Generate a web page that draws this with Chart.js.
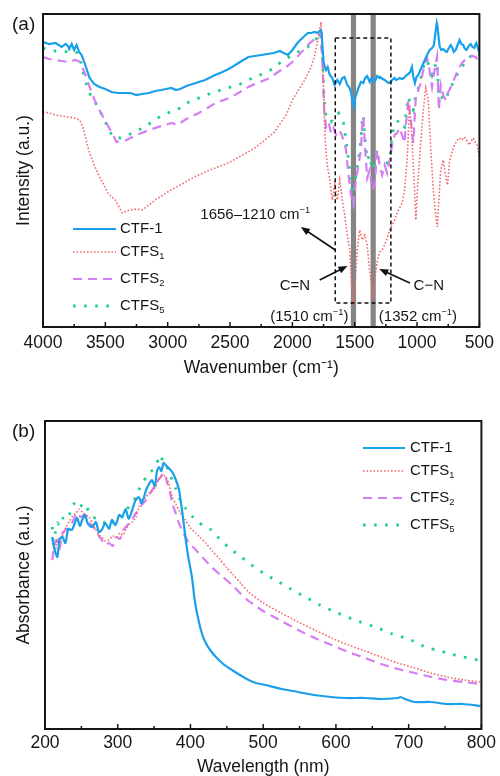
<!DOCTYPE html>
<html>
<head>
<meta charset="utf-8">
<script src="https://cdn.jsdelivr.net/npm/chart.js@4.4.1/dist/chart.umd.min.js"></script>
<style>
  html, body { margin: 0; padding: 0; background: #fff; }
  #wrap { position: relative; width: 500px; height: 776px; }
  canvas { position: absolute; left: 0; }
</style>
</head>
<body>
<div id="wrap">
  <canvas id="ftir" width="500" height="388" style="top:0"></canvas>
  <canvas id="uvvis" width="500" height="388" style="top:388px"></canvas>
</div>
<script>
// series names: base text + subscript
const seriesLabels = [['CTF-1', ''], ['CTFS', '1'], ['CTFS', '2'], ['CTFS', '5']];
const seriesColors = ['#1aa0ea', '#f26b6b', '#d57ef3', '#1fcf8e'];

// (a) FTIR: [wavenumber cm-1, intensity a.u.]
const ftirCTF1 = [[4000,285],[3950,283],[3900,284],[3850,280],[3820,283],[3800,281],[3790,278],[3770,283],[3750,277],[3730,282],[3710,275],[3690,272],[3666,264],[3645,256],[3626,249],[3590,243],[3547,240],[3500,238],[3450,235],[3400,234],[3364,234],[3300,234],[3250,232],[3205,233],[3150,234],[3100,236],[3050,237],[3014,238],[2970,239],[2934,237],[2900,238],[2850,241],[2800,243],[2751,245],[2700,247],[2620,252],[2560,255],[2512,258],[2470,261],[2420,265],[2380,268],[2353,270],[2300,271],[2250,272],[2200,273],[2150,274],[2100,276],[2070,274],[2035,272],[2000,277],[1960,284],[1920,289],[1876,294],[1850,294],[1820,295],[1797,294],[1773,297],[1765,294],[1758,280],[1750,265],[1740,260],[1730,257],[1717,260],[1700,252],[1680,249],[1661,242],[1640,247],[1620,243],[1600,249],[1582,250],[1560,242],[1545,240],[1530,235],[1515,224],[1505,220],[1495,230],[1480,235],[1470,239],[1450,245],[1430,244],[1423,247],[1410,250],[1400,251],[1380,245],[1370,248],[1360,249],[1343,245],[1330,248],[1320,251],[1300,249],[1295,250],[1275,248],[1260,247],[1230,244],[1210,245],[1200,247],[1180,249],[1170,247],[1150,248],[1140,249],[1120,248],[1104,249],[1085,252],[1070,253],[1055,255],[1041,260],[1030,250],[1017,244],[1005,250],[990,252],[970,258],[945,265],[920,272],[898,277],[880,279],[865,282],[850,297],[842,304],[835,300],[828,290],[818,280],[805,277],[790,278],[775,276],[762,275],[745,279],[730,282],[720,280],[705,275],[690,277],[675,282],[659,287],[645,283],[630,282],[615,278],[603,277],[585,281],[570,283],[555,280],[540,279],[530,283],[524,284],[510,278],[500,274]];
const ftirCTFS1 = [[4000,215],[3950,214],[3900,212],[3850,211],[3801,210],[3750,209],[3706,207],[3680,200],[3660,190],[3640,180],[3626,174],[3590,162],[3547,150],[3510,142],[3480,134],[3450,130],[3420,127],[3390,120],[3364,114],[3330,116],[3300,117],[3250,118],[3205,117],[3150,122],[3100,127],[3050,131],[3014,134],[2960,138],[2900,142],[2830,147],[2751,152],[2680,156],[2600,160],[2512,164],[2430,170],[2353,175],[2300,179],[2250,184],[2200,189],[2150,194],[2100,203],[2050,212],[2000,227],[1950,237],[1900,247],[1850,260],[1820,272],[1800,284],[1785,295],[1770,305],[1762,290],[1755,267],[1748,230],[1740,197],[1730,175],[1720,162],[1700,147],[1680,127],[1660,142],[1640,127],[1620,147],[1600,127],[1580,112],[1560,92],[1540,77],[1525,42],[1510,22],[1495,47],[1480,77],[1460,97],[1440,87],[1420,92],[1400,82],[1385,62],[1365,42],[1352,27],[1335,52],[1320,65],[1300,75],[1280,77],[1260,82],[1240,89],[1220,97],[1200,102],[1180,107],[1160,114],[1140,119],[1120,124],[1100,137],[1080,167],[1060,222],[1040,187],[1020,137],[1010,107],[995,142],[975,177],[950,217],[930,239],[910,227],[890,177],[870,137],[850,112],[838,100],[825,127],[810,157],[790,167],[770,150],[755,142],[740,165],[720,175],[700,182],[680,186],[660,189],[640,187],[620,190],[600,186],[580,182],[565,186],[550,189],[535,185],[520,182],[510,176],[500,169]];
const ftirCTFS2 = [[4000,270],[3950,268],[3900,267],[3850,266],[3801,265],[3740,267],[3700,265],[3660,252],[3626,240],[3590,228],[3547,217],[3500,206],[3460,197],[3430,190],[3410,185],[3370,186],[3330,187],[3250,192],[3150,197],[3050,201],[2966,204],[2926,202],[2850,208],[2751,214],[2680,219],[2616,224],[2550,227],[2489,230],[2420,235],[2353,240],[2280,244],[2200,248],[2150,252],[2091,257],[2040,261],[2000,265],[1940,273],[1876,282],[1830,287],[1800,289],[1773,294],[1760,267],[1745,217],[1730,200],[1710,205],[1690,194],[1670,199],[1650,192],[1630,197],[1610,194],[1590,187],[1570,177],[1550,152],[1530,132],[1510,122],[1490,147],[1470,162],[1450,177],[1440,202],[1430,210],[1420,184],[1400,149],[1380,157],[1360,137],[1340,142],[1320,177],[1300,162],[1280,152],[1260,162],[1240,154],[1220,167],[1200,182],[1180,192],[1160,194],[1140,199],[1120,192],[1100,184],[1090,202],[1070,227],[1050,207],[1030,184],[1010,230],[990,237],[970,244],[945,260],[920,269],[900,257],[880,240],[860,257],[840,270],[825,217],[810,242],[790,232],[770,227],[750,235],[720,242],[680,255],[640,264],[600,269],[560,271],[530,270],[500,265]];
const ftirCTFS5 = [[4000,279],[3950,277],[3900,276],[3850,276],[3800,275],[3760,276],[3720,274],[3690,262],[3666,247],[3620,232],[3580,224],[3547,217],[3500,205],[3470,197],[3440,190],[3380,189],[3300,193],[3200,199],[3100,207],[3045,212],[3000,214],[2900,219],[2831,225],[2750,229],[2648,234],[2550,238],[2433,242],[2353,247],[2280,251],[2200,255],[2150,259],[2091,265],[2000,272],[1940,276],[1876,280],[1830,286],[1800,289],[1773,294],[1760,272],[1745,227],[1730,210],[1710,207],[1690,205],[1670,209],[1650,212],[1630,214],[1610,209],[1590,204],[1570,187],[1550,167],[1530,142],[1510,127],[1490,152],[1470,167],[1450,187],[1440,207],[1430,212],[1420,192],[1400,167],[1380,172],[1360,157],[1340,167],[1320,170],[1300,169],[1280,169],[1260,167],[1240,164],[1220,167],[1200,192],[1180,202],[1160,205],[1140,207],[1120,202],[1100,200],[1090,212],[1070,230],[1050,222],[1030,217],[1010,232],[990,239],[970,249],[945,262],[920,267],[900,260],[880,252],[860,260],[840,265],[825,230],[810,232],[790,227],[770,227],[750,234],[720,242],[680,252],[640,260],[600,267],[560,272],[530,274],[500,272]];
const ftirTicks = [4000, 3500, 3000, 2500, 2000, 1500, 1000, 500];

// (b) UV-vis: [wavelength nm, absorbance a.u.]
const uvCTF1 = [[210,192],[213,180],[217,172],[220,190],[224,192],[228,186],[232,200],[237,199],[241,206],[244,211],[248,203],[251,209],[255,214],[259,205],[265,202],[270,207],[274,197],[278,199],[283,206],[288,200],[292,209],[297,204],[302,214],[306,212],[311,220],[315,210],[320,219],[324,228],[329,232],[333,226],[339,239],[343,245],[347,249],[351,243],[354,258],[357,262],[360,258],[363,266],[366,264],[370,261],[375,257],[380,249],[384,240],[387,226],[390,210],[393,192],[397,172],[402,152],[406,128],[411,109],[416,95],[421,86],[428,78],[435,72],[445,65],[457,59],[468,54],[480,49],[490,46],[503,44],[525,40],[548,37],[570,34],[593,32],[615,31],[640,31],[662,30],[685,31],[689,32],[695,30],[708,27],[730,27],[753,25],[775,25],[799,23]];
const uvCTFS1 = [[210,186],[214,178],[217,190],[220,189],[225,195],[229,202],[234,208],[238,213],[243,216],[247,220],[251,217],[256,214],[261,212],[265,205],[270,199],[274,194],[278,192],[283,188],[288,189],[293,193],[298,192],[303,196],[307,194],[311,199],[316,205],[320,207],[325,212],[329,222],[333,229],[338,231],[343,236],[347,238],[352,242],[355,248],[359,252],[363,254],[366,251],[370,246],[375,232],[380,225],[384,219],[393,209],[400,201],[407,196],[414,191],[421,186],[430,178],[439,171],[449,162],[459,154],[470,145],[480,137],[500,126],[525,116],[548,107],[571,99],[594,91],[617,84],[640,78],[662,72],[685,66],[708,61],[730,56],[753,52],[776,49],[799,47]];
const uvCTFS2 = [[210,169],[213,185],[216,189],[220,180],[224,196],[230,200],[237,206],[241,212],[244,216],[249,212],[253,214],[257,209],[262,205],[266,202],[270,199],[274,193],[278,189],[283,184],[288,186],[293,183],[298,192],[303,190],[307,198],[311,202],[316,206],[320,210],[325,216],[330,220],[334,225],[339,229],[344,235],[350,242],[354,247],[359,252],[363,256],[366,252],[368,246],[372,236],[375,226],[380,215],[384,206],[391,195],[398,186],[405,181],[411,176],[420,169],[429,162],[443,153],[457,144],[468,136],[480,128],[500,118],[525,108],[548,99],[571,91],[594,84],[617,77],[640,71],[662,65],[685,60],[708,56],[731,52],[753,49],[776,47],[799,45]];
const uvCTFS5 = [[210,202],[212,182],[214,196],[217,206],[220,203],[224,210],[229,216],[233,214],[237,222],[241,226],[244,227],[248,222],[253,226],[257,222],[262,216],[266,213],[270,210],[275,208],[280,206],[285,209],[292,206],[297,210],[301,212],[306,212],[311,218],[315,222],[320,226],[325,232],[329,239],[334,245],[339,252],[343,256],[348,259],[353,266],[357,270],[359,274],[362,268],[366,266],[370,257],[375,249],[380,240],[385,230],[393,221],[402,213],[411,207],[420,202],[429,199],[440,190],[455,180],[470,172],[480,166],[500,156],[517,149],[538,140],[558,132],[578,124],[599,117],[626,109],[654,102],[678,95],[703,89],[726,81],[740,79],[753,76],[775,72],[795,69],[800,68]];
const uvTicks = [200, 300, 400, 500, 600, 700, 800];

const FONT = '"Liberation Sans", Arial, Helvetica, sans-serif';
const INK = '#161616';
const lineStyles = [
  { borderWidth: 2.2, borderDash: [] },
  { borderWidth: 1.6, borderDash: [1.6, 1.9] },
  { borderWidth: 2.2, borderDash: [9, 6] },
  { borderWidth: 2.8, borderDash: [2.6, 8.5] }
];

function makeDatasets(series, tension) {
  return series.map((s, i) => ({
    label: seriesLabels[i][0] + (seriesLabels[i][1] ? ['₁','₂','₅'][i - 1] : ''),
    data: s.map(p => ({ x: p[0], y: p[1] })),
    borderColor: seriesColors[i],
    backgroundColor: seriesColors[i],
    borderWidth: lineStyles[i].borderWidth,
    borderDash: lineStyles[i].borderDash,
    pointRadius: 0,
    fill: false,
    tension: tension
  }));
}

// text with optional sup (1) / sub (-1) parts
function drawRich(ctx, parts, x, y, size, align) {
  const small = size * 0.62;
  let w = 0;
  parts.forEach(p => { ctx.font = (p[1] ? small : size) + 'px ' + FONT; w += ctx.measureText(p[0]).width; });
  let cx = align === 'center' ? x - w / 2 : x;
  ctx.textAlign = 'left';
  ctx.textBaseline = 'middle';
  parts.forEach(p => {
    ctx.font = (p[1] ? small : size) + 'px ' + FONT;
    const dy = p[1] === 1 ? -size * 0.32 : p[1] === -1 ? size * 0.3 : 0;
    ctx.fillText(p[0], cx, y + dy);
    cx += ctx.measureText(p[0]).width;
  });
}

function arrow(ctx, x1, y1, x2, y2) {
  const a = Math.atan2(y2 - y1, x2 - x1), L = 9, W = 3.6;
  ctx.beginPath();
  ctx.moveTo(x1, y1);
  ctx.lineTo(x2 - Math.cos(a) * L * 0.8, y2 - Math.sin(a) * L * 0.8);
  ctx.stroke();
  ctx.beginPath();
  ctx.moveTo(x2, y2);
  ctx.lineTo(x2 - L * Math.cos(a) + W * Math.sin(a), y2 - L * Math.sin(a) - W * Math.cos(a));
  ctx.lineTo(x2 - L * Math.cos(a) - W * Math.sin(a), y2 - L * Math.sin(a) + W * Math.cos(a));
  ctx.closePath();
  ctx.fill();
}

function drawLegend(chart, rows, x0, x1, tx) {
  const ctx = chart.ctx;
  chart.data.datasets.forEach((ds, i) => {
    const y = rows[i];
    ctx.save();
    ctx.strokeStyle = ds.borderColor;
    ctx.lineWidth = ds.borderWidth;
    ctx.setLineDash(ds.borderDash);
    ctx.beginPath(); ctx.moveTo(x0, y); ctx.lineTo(x1, y); ctx.stroke();
    ctx.restore();
    ctx.fillStyle = INK;
    drawRich(ctx, [[seriesLabels[i][0], 0], [seriesLabels[i][1], -1]], tx, y, 15, 'left');
  });
}

// frame box + inward major/minor ticks + panel letter + legend
const frameTicks = {
  id: 'frameTicks',
  afterDraw(chart, args, opts) {
    const { ctx, chartArea: a, scales: { x } } = chart;
    ctx.save();
    ctx.strokeStyle = INK;
    ctx.lineWidth = 1.5;
    const lo = Math.min(x.min, x.max), hi = Math.max(x.min, x.max);
    for (let v = lo; v <= hi; v += opts.minor) {
      const px = x.getPixelForValue(v);
      const len = (v % opts.major === 0) ? 5 : 3;
      ctx.beginPath(); ctx.moveTo(px, a.bottom); ctx.lineTo(px, a.bottom - len); ctx.stroke();
    }
    ctx.lineWidth = 2;
    ctx.strokeRect(a.left, a.top, a.right - a.left, a.bottom - a.top);
    ctx.fillStyle = INK;
    ctx.font = '19px ' + FONT;
    ctx.textAlign = 'left';
    ctx.textBaseline = 'middle';
    ctx.fillText(opts.letter, 12, opts.letterY);
    drawLegend(chart, opts.legendRows, opts.legendX0, opts.legendX1, opts.legendTextX);
    ctx.restore();
  }
};

// (a) grey bands, dashed box and arrows
const ftirMarks = {
  id: 'ftirMarks',
  beforeDatasetsDraw(chart) {
    const { ctx, chartArea: a, scales: { x } } = chart;
    ctx.save();
    ctx.fillStyle = '#858585';
    [1510, 1352].forEach(w => {
      const px = x.getPixelForValue(w);
      ctx.fillRect(px - 2.6, a.top, 5.2, a.bottom - a.top);
    });
    ctx.restore();
  },
  afterDatasetsDraw(chart) {
    const { ctx, scales: { x, y } } = chart;
    const X = v => x.getPixelForValue(v), Y = v => y.getPixelForValue(v);
    ctx.save();
    ctx.strokeStyle = '#111';
    ctx.fillStyle = '#111';
    ctx.lineWidth = 1.5;
    ctx.setLineDash([4, 3]);
    ctx.strokeRect(X(1656), Y(289), X(1210) - X(1656), Y(24) - Y(289));
    ctx.setLineDash([]);
    ctx.lineWidth = 1.6;
    arrow(ctx, X(1656), Y(77), X(1932), Y(100));
    arrow(ctx, X(1781), Y(47), X(1558), Y(61));
    arrow(ctx, X(1057), Y(44), X(1303), Y(58));
    ctx.fillStyle = INK;
    drawRich(ctx, [['1656–1210 cm', 0], ['−1', 1]], X(2298), Y(112), 15, 'center');
    drawRich(ctx, [['C=N', 0]], X(1980), Y(41), 15, 'center');
    drawRich(ctx, [['C−N', 0]], X(906), Y(41), 15, 'center');
    drawRich(ctx, [['(1510 cm', 0], ['−1', 1], [')', 0]], X(1864), Y(10), 15, 'center');
    drawRich(ctx, [['(1352 cm', 0], ['−1', 1], [')', 0]], X(993), Y(10), 15, 'center');
    ctx.restore();
  }
};

const tickFont = { family: FONT, size: 17.5 };
const titleFont = { family: FONT, size: 17.5 };

new Chart(document.getElementById('ftir'), {
  type: 'line',
  data: { datasets: makeDatasets([ftirCTF1, ftirCTFS1, ftirCTFS2, ftirCTFS5], 0) },
  options: {
    responsive: false,
    animation: false,
    layout: { padding: { top: 14, right: 17, left: 0, bottom: 0 } },
    scales: {
      x: {
        type: 'linear', reverse: true, min: 500, max: 4000,
        afterBuildTicks: s => { s.ticks = ftirTicks.map(v => ({ value: v })); },
        ticks: { autoSkip: false, maxRotation: 0, padding: 6, font: tickFont, color: INK, callback: v => String(v) },
        grid: { display: false, drawTicks: false },
        border: { display: false },
        title: { display: true, text: 'Wavenumber (cm⁻¹)', font: titleFont, color: INK, padding: { top: 0, bottom: 9 } },
        afterFit: s => { s.height = 61; }
      },
      y: {
        min: 0, max: 313,
        ticks: { display: false },
        grid: { display: false, drawTicks: false },
        border: { display: false },
        title: { display: true, text: 'Intensity (a.u.)', font: titleFont, color: INK, padding: { top: 14, bottom: 0 } },
        afterFit: s => { s.width = 43; }
      }
    },
    plugins: {
      legend: { display: false },
      tooltip: { enabled: false },
      frameTicks: { major: 500, minor: 250, letter: '(a)', letterY: 25, legendRows: [229, 252, 279, 306], legendX0: 73, legendX1: 116, legendTextX: 120 }
    }
  },
  plugins: [ftirMarks, frameTicks]
});

new Chart(document.getElementById('uvvis'), {
  type: 'line',
  data: { datasets: makeDatasets([uvCTF1, uvCTFS1, uvCTFS2, uvCTFS5], 0.25) },
  options: {
    responsive: false,
    animation: false,
    layout: { padding: { top: 33, right: 17, left: 0, bottom: 0 } },
    scales: {
      x: {
        type: 'linear', min: 200, max: 800,
        afterBuildTicks: s => { s.ticks = uvTicks.map(v => ({ value: v })); },
        ticks: { autoSkip: false, maxRotation: 0, padding: 4, font: tickFont, color: INK, callback: v => String(v) },
        grid: { display: false, drawTicks: false },
        border: { display: false },
        title: { display: true, text: 'Wavelength (nm)', font: titleFont, color: INK, padding: { top: 0, bottom: -2 } },
        afterFit: s => { s.height = 47; }
      },
      y: {
        min: 0, max: 308,
        ticks: { display: false },
        grid: { display: false, drawTicks: false },
        border: { display: false },
        title: { display: true, text: 'Absorbance (a.u.)', font: titleFont, color: INK, padding: { top: 14, bottom: 0 } },
        afterFit: s => { s.width = 45; }
      }
    },
    plugins: {
      legend: { display: false },
      tooltip: { enabled: false },
      frameTicks: { major: 100, minor: 50, letter: '(b)', letterY: 44, legendRows: [60, 83, 110, 137], legendX0: 363, legendX1: 405, legendTextX: 410 }
    }
  },
  plugins: [frameTicks]
});
</script>
</body>
</html>
